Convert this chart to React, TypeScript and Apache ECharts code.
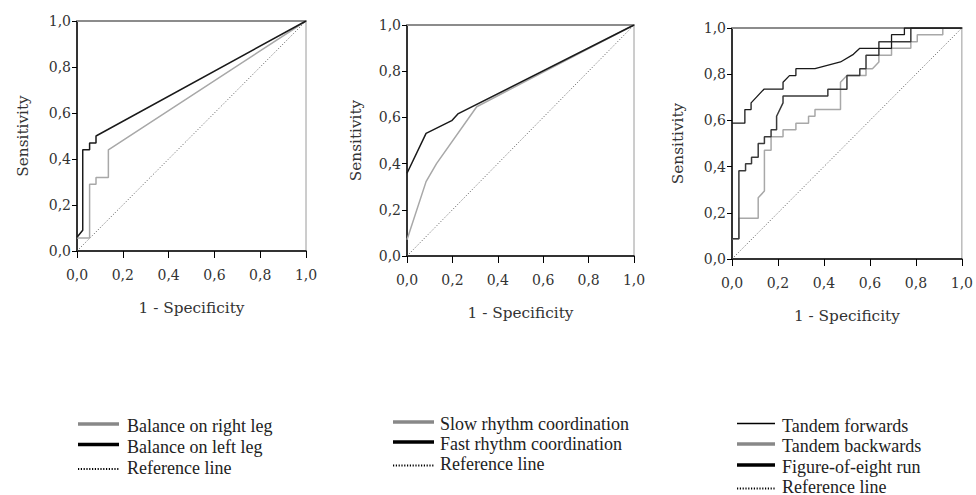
import React, { useEffect, useRef } from "react";
import * as echarts from "echarts";

// ---- data ----
const referenceLine = [[0, 0], [1, 1]];

const balanceRight = [[0, 0.057], [0.055, 0.057], [0.055, 0.29], [0.083, 0.29], [0.083, 0.32], [0.137, 0.32], [0.137, 0.44], [1, 1]];
const balanceLeft = [[0, 0.06], [0.025, 0.09], [0.025, 0.44], [0.055, 0.44], [0.055, 0.47], [0.083, 0.47], [0.083, 0.5], [1, 1]];

const slowRhythm = [[0, 0.07], [0.084, 0.322], [0.13, 0.4], [0.307, 0.646], [1, 1]];
const fastRhythm = [[0, 0.358], [0.084, 0.531], [0.197, 0.586], [0.224, 0.615], [1, 1]];

const tandemForwards = [
  [0, 0.588], [0.056, 0.588], [0.056, 0.647], [0.083, 0.647], [0.083, 0.676], [0.139, 0.735],
  [0.222, 0.735], [0.222, 0.765], [0.25, 0.794], [0.278, 0.794], [0.278, 0.824], [0.361, 0.824],
  [0.472, 0.853], [0.528, 0.886], [0.556, 0.912], [0.694, 0.912], [0.694, 0.971], [0.75, 0.971],
  [0.75, 1], [1, 1],
];
const tandemBackwards = [
  [0, 0.088], [0.03, 0.088], [0.03, 0.176], [0.114, 0.176], [0.114, 0.265], [0.141, 0.294],
  [0.141, 0.471], [0.17, 0.471], [0.17, 0.529], [0.222, 0.529], [0.222, 0.559], [0.278, 0.559],
  [0.278, 0.588], [0.333, 0.588], [0.333, 0.618], [0.361, 0.618], [0.361, 0.647], [0.472, 0.647],
  [0.472, 0.765], [0.5, 0.794], [0.583, 0.794], [0.583, 0.824], [0.611, 0.824], [0.639, 0.853],
  [0.639, 0.882], [0.694, 0.882], [0.694, 0.912], [0.778, 0.912], [0.778, 0.941], [0.806, 0.941],
  [0.806, 0.971], [0.917, 0.971], [0.917, 1], [1, 1],
];
const figureEight = [
  [0, 0.088], [0.03, 0.088], [0.03, 0.382], [0.059, 0.382], [0.059, 0.412], [0.085, 0.412],
  [0.085, 0.441], [0.114, 0.441], [0.114, 0.5], [0.141, 0.5], [0.141, 0.529], [0.17, 0.529],
  [0.17, 0.559], [0.194, 0.559], [0.194, 0.618], [0.222, 0.676], [0.222, 0.706], [0.417, 0.706],
  [0.417, 0.735], [0.5, 0.735], [0.5, 0.794], [0.556, 0.794], [0.556, 0.824], [0.583, 0.824],
  [0.583, 0.882], [0.639, 0.882], [0.639, 0.941], [0.778, 0.941], [0.778, 1], [1, 1],
];

const xAxisTitle = "1 - Specificity";
const yAxisTitle = "Sensitivity";
const legend1 = ["Balance on right leg", "Balance on left leg", "Reference line"];
const legend2 = ["Slow rhythm coordination", "Fast rhythm coordination", "Reference line"];
const legend3 = ["Tandem forwards", "Tandem backwards", "Figure-of-eight run", "Reference line"];

// ---- styles ----
const SERIF_AXIS = "'DejaVu Serif', 'Liberation Serif', serif";
const SERIF_LEGEND = "'Liberation Serif', 'Times New Roman', serif";
const GRAY = "#a8a8a8";
const BLACK = "#1a1a1a";
const DARK = "#3a3a3a";
const refStyle = { color: "#555", width: 1, type: [1, 2] as any };

const grids = [
  { left: 77, top: 21, width: 229, height: 230, yGap: 47 },
  { left: 407, top: 25, width: 227, height: 231, yGap: 44 },
  { left: 732, top: 28, width: 231, height: 231, yGap: 47 },
];

const fmt = (v: number) => v.toFixed(1).replace(".", ",");

type LegendItem = { name: string; color: string; width: number; dotted?: boolean };

const legends: { x1: number; x2: number; tx: number; ys: number[]; items: LegendItem[] }[] = [
  {
    x1: 78, x2: 119, tx: 127, ys: [426, 446.5, 467.5],
    items: [
      { name: legend1[0], color: "#888", width: 3.5 },
      { name: legend1[1], color: "#000", width: 3.5 },
      { name: legend1[2], color: "#000", width: 2, dotted: true },
    ],
  },
  {
    x1: 393, x2: 434, tx: 440, ys: [424, 444, 464],
    items: [
      { name: legend2[0], color: "#888", width: 3.5 },
      { name: legend2[1], color: "#000", width: 3.5 },
      { name: legend2[2], color: "#000", width: 2, dotted: true },
    ],
  },
  {
    x1: 737, x2: 775, tx: 782, ys: [425.5, 446, 467, 487],
    items: [
      { name: legend3[0], color: "#000", width: 1.5 },
      { name: legend3[1], color: "#888", width: 3.5 },
      { name: legend3[2], color: "#000", width: 3.5 },
      { name: legend3[3], color: "#000", width: 2, dotted: true },
    ],
  },
];

function buildOption() {
  const axisFont = { fontFamily: SERIF_AXIS, fontSize: 14, color: "#333" };
  const nameFont = { fontFamily: SERIF_AXIS, fontSize: 15.3, color: "#333" };
  const xAxis: any[] = [];
  const yAxis: any[] = [];
  grids.forEach((g, i) => {
    xAxis.push({
      type: "value", gridIndex: i, min: 0, max: 1, interval: 0.2,
      name: xAxisTitle, nameLocation: "middle", nameGap: 49, nameTextStyle: nameFont,
      axisLine: { show: true, onZero: false, lineStyle: { color: "#000", width: 1.5 } },
      axisTick: { show: true, length: 7, lineStyle: { color: "#000", width: 1 } },
      axisLabel: { ...axisFont, margin: 17, formatter: fmt },
      splitLine: { show: false },
    });
    xAxis.push({
      type: "value", gridIndex: i, min: 0, max: 1, position: "top",
      axisLine: { show: true, onZero: false, lineStyle: { color: "#8c8c8c", width: 2 } },
      axisTick: { show: false }, axisLabel: { show: false }, splitLine: { show: false },
    });
    yAxis.push({
      type: "value", gridIndex: i, min: 0, max: 1, interval: 0.2,
      name: yAxisTitle, nameLocation: "middle", nameGap: g.yGap, nameTextStyle: nameFont,
      axisLine: { show: true, onZero: false, lineStyle: { color: "#000", width: 1.5 } },
      axisTick: { show: true, length: 5, lineStyle: { color: "#000", width: 1 } },
      axisLabel: { ...axisFont, margin: 6, formatter: fmt },
      splitLine: { show: false },
    });
  });

  const line = (name: string, data: number[][], gi: number, style: any, z = 3) => ({
    type: "line", name, data, xAxisIndex: gi * 2, yAxisIndex: gi,
    symbol: "none", lineStyle: style, z, silent: true,
  });

  const series = [
    line(legend1[2], referenceLine, 0, refStyle, 2),
    line(legend1[0], balanceRight, 0, { color: GRAY, width: 1.5 }),
    line(legend1[1], balanceLeft, 0, { color: BLACK, width: 1.5 }),
    line(legend2[2], referenceLine, 1, refStyle, 2),
    line(legend2[0], slowRhythm, 1, { color: GRAY, width: 1.5 }),
    line(legend2[1], fastRhythm, 1, { color: BLACK, width: 1.5 }),
    line(legend3[3], referenceLine, 2, refStyle, 2),
    line(legend3[1], tandemBackwards, 2, { color: GRAY, width: 1.5 }),
    line(legend3[2], figureEight, 2, { color: DARK, width: 1.5 }),
    line(legend3[0], tandemForwards, 2, { color: BLACK, width: 1.3 }),
  ];

  const graphic: any[] = [];
  legends.forEach((lg) => {
    lg.items.forEach((it, k) => {
      const y = lg.ys[k] + (it.dotted ? 1.5 : -2);
      graphic.push({
        type: "line", silent: true,
        shape: { x1: lg.x1, y1: y, x2: lg.x2, y2: y },
        style: { stroke: it.color, lineWidth: it.width, lineDash: it.dotted ? [1.2, 1.6] : null },
      });
      graphic.push({
        type: "text", silent: true, x: lg.tx, y: lg.ys[k],
        style: {
          text: it.name, fontFamily: SERIF_LEGEND, fontSize: 18, fill: "#222",
          verticalAlign: "middle", align: "left",
        },
      });
    });
  });

  return {
    animation: false,
    backgroundColor: "#fff",
    grid: grids.map((g) => ({
      left: g.left, top: g.top, width: g.width, height: g.height,
      show: true, borderColor: "#9a9a9a", borderWidth: 1, backgroundColor: "transparent",
    })),
    xAxis, yAxis, series, graphic,
  };
}

export default function App() {
  const ref = useRef<HTMLDivElement>(null);
  useEffect(() => {
    if (!ref.current) return;
    const chart = echarts.init(ref.current, undefined, { renderer: "svg" });
    chart.setOption(buildOption() as any);
    return () => chart.dispose();
  }, []);
  return (
    <div
      ref={ref}
      style={{ position: "fixed", left: 0, top: 0, width: 976, height: 495, background: "#fff" }}
    />
  );
}
